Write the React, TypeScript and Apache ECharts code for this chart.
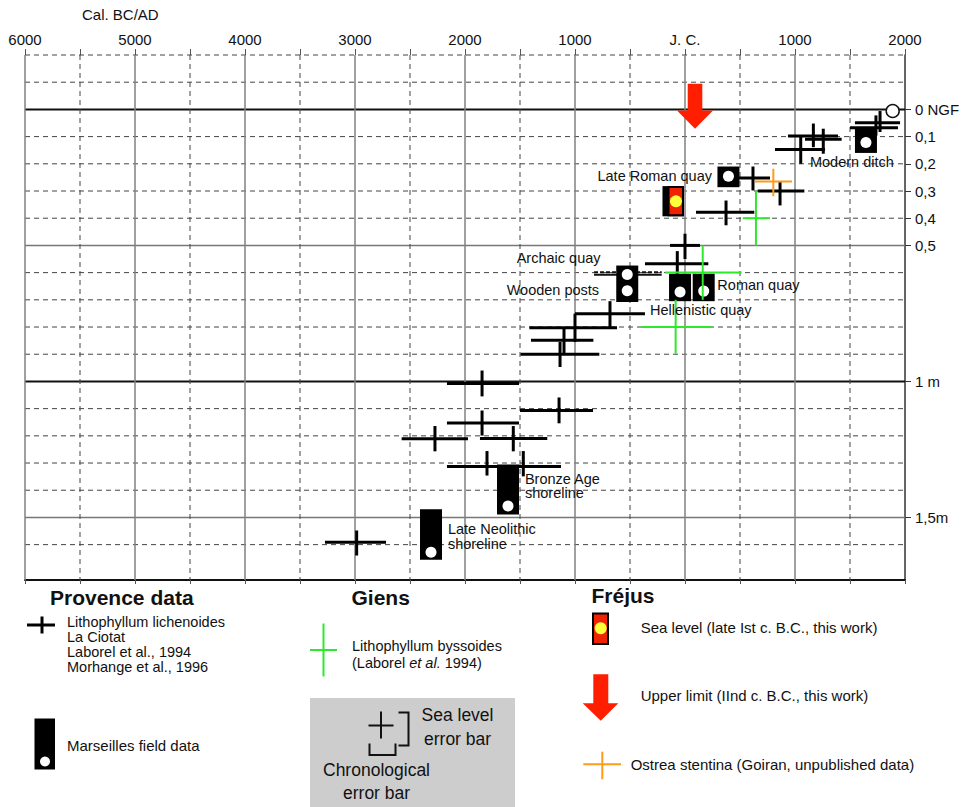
import React, { useEffect, useRef } from "react";
import * as echarts from "echarts";

const FONT = '"Liberation Sans", Arial, Helvetica, sans-serif';

// Axis ticks / labels
const xLabelYears = [-6000, -5000, -4000, -3000, -2000, -1000, 0, 1000, 2000];
const xTickYears = [-6000, -5500, -5000, -4500, -4000, -3500, -3000, -2500, -2000, -1500, -1000, -500, 0, 500, 1000, 1500, 2000];
const yLabelDepths = [0, 0.1, 0.2, 0.3, 0.4, 0.5, 1, 1.5];
const yLabelTexts = ["0 NGF", "0,1", "0,2", "0,3", "0,4", "0,5", "1 m", "1,5m"];
const Y_MIN = -0.2;
const Y_MAX = 1.73;

// Grid lines: [value, kind] kind 0 = dashed, 1 = solid grey, 2 = solid black
const hGridLines = [
  [-0.2, 0], [-0.1, 0], [0, 2], [0.1, 0], [0.2, 0], [0.3, 0], [0.4, 0], [0.5, 1],
  [0.6, 0], [0.7, 0], [0.8, 0], [0.9, 0], [1, 2], [1.1, 0], [1.2, 0], [1.3, 0],
  [1.4, 0], [1.5, 1], [1.6, 0],
];
const vGridLines = [
  [-6000, 1], [-5500, 0], [-5000, 1], [-4500, 0], [-4000, 1], [-3500, 0], [-3000, 1],
  [-2500, 0], [-2000, 1], [-1500, 0], [-1000, 1], [-500, 0], [0, 1], [500, 0],
  [1000, 1], [1500, 0],
];

// Lithophyllum lichenoides (Provence): [year, depth, yearMin, yearMax, depthMin, depthMax]
const provenceCrosses = [
  [1736, 0.049, 1545, 1955, 0.022, 0.096],
  [1773, 0.067, 1500, 1936, 0.006, 0.083],
  [1167, 0.098, 936, 1391, 0.052, 0.139],
  [1257, 0.11, 1091, 1424, 0.071, 0.163],
  [1052, 0.147, 818, 1273, 0.096, 0.2],
  [618, 0.252, 482, 773, 0.21, 0.298],
  [864, 0.3, 661, 1085, 0.267, 0.353],
  [373, 0.378, 100, 630, 0.335, 0.426],
  [0, 0.5, -136, 136, 0.457, 0.55],
  [-70, 0.567, -364, 212, 0.521, 0.61],
  [-682, 0.751, -1000, -364, 0.705, 0.8],
  [-1000, 0.803, -1415, -618, 0.751, 0.855],
  [-1100, 0.849, -1400, -833, 0.806, 0.9],
  [-1136, 0.9, -1494, -779, 0.855, 0.947],
  [-1845, 1.008, -2164, -1509, 0.96, 1.055],
  [-1145, 1.107, -1500, -836, 1.059, 1.154],
  [-1845, 1.153, -2164, -1509, 1.107, 1.199],
  [-2273, 1.211, -2576, -1973, 1.164, 1.257],
  [-1561, 1.21, -1864, -1252, 1.164, 1.257],
  [-1800, 1.3125, -2164, -1445, 1.256, 1.346],
  [-1470, 1.3125, -1818, -1127, 1.256, 1.349],
  [-2985, 1.591, -3273, -2718, 1.548, 1.64],
];

// Lithophyllum byssoides (Giens)
const giensCrosses = [
  [645, 0.4, 525, 773, 0.298, 0.5],
  [161, 0.6, -182, 515, 0.5, 0.7],
  [-85, 0.8, -394, 243, 0.7, 0.898],
];

// Ostrea stentina (Fréjus)
const ostreaCrosses = [[803, 0.265, 636, 973, 0.218, 0.319]];

// Marseilles field data: [year, depthTop, depthBottom]
const marseillesBoxes = [
  [-2309, 1.47, 1.656],
  [-1609, 1.305, 1.489],
  [-525, 0.574, 0.708],
  [-45, 0.604, 0.705],
  [170, 0.604, 0.705],
  [395, 0.21, 0.286],
  [1645, 0.071, 0.16],
];
// Marseilles sample points (white dots): [year, depth]
const marseillesDots = [
  [-2309, 1.628],
  [-1609, 1.458],
  [-525, 0.607],
  [-525, 0.667],
  [-45, 0.671],
  [170, 0.668],
  [395, 0.246],
  [1645, 0.122],
];
// Archaic quay chronological bar: [yearMin, yearMax, depth]
const archaicBar = [[-827, -212, 0.604]];

// Fréjus sea level (late Ist c. B.C.): [year, depthTop, depthBottom, depthPoint]
const frejusLevel = [[-82, 0.282, 0.393, 0.338]];
// Fréjus upper limit arrow: [year, depthTop, depthHeadStart, depthTip]
const frejusUpper = [[91, -0.094, 0.004, 0.071]];
// Present level
const presentLevel = [[1888, 0.006]];

// Annotations: [year, depth, text, align]
const annotations: [number, number, string, string][] = [
  [245, 0.243, "Late Roman quay", "right"],
  [1136, 0.194, "Modern ditch", "left"],
  [-1530, 0.545, "Archaic quay", "left"],
  [-1621, 0.665, "Wooden posts", "left"],
  [294, 0.647, "Roman quay", "left"],
  [-318, 0.739, "Hellenistic quay", "left"],
  [-1455, 1.357, "Bronze Age", "left"],
  [-1455, 1.412, "shoreline", "left"],
  [-2155, 1.541, "Late Neolithic", "left"],
  [-2155, 1.596, "shoreline", "left"],
];

function crossSeries(name: string, data: number[][], color: string, width: number, z: number) {
  return {
    type: "custom",
    name,
    z,
    data,
    renderItem: (params: any, api: any) => {
      const c = api.coord([api.value(0), api.value(1)]);
      const l = api.coord([api.value(2), api.value(1)]);
      const r = api.coord([api.value(3), api.value(1)]);
      const t = api.coord([api.value(0), api.value(4)]);
      const b = api.coord([api.value(0), api.value(5)]);
      return {
        type: "group",
        children: [
          { type: "line", shape: { x1: l[0], y1: c[1], x2: r[0], y2: c[1] }, style: { stroke: color, lineWidth: width } },
          { type: "line", shape: { x1: c[0], y1: t[1], x2: c[0], y2: b[1] }, style: { stroke: color, lineWidth: width } },
        ],
      };
    },
  };
}

export default function App() {
  const ref = useRef<HTMLDivElement>(null);
  useEffect(() => {
    if (!ref.current) return;
    const chart = echarts.init(ref.current, undefined, { renderer: "svg" });
    const txt = (x: number, y: number, text: string, size = 15, extra: any = {}) => ({
      type: "text",
      x,
      y,
      style: { text, font: `${extra.bold ? "bold " : ""}${size}px ${FONT}`, fill: "#111", align: extra.align || "left", verticalAlign: "middle", ...(extra.style || {}) },
    });
    const ln = (x1: number, y1: number, x2: number, y2: number, color: string, w: number) => ({
      type: "line",
      shape: { x1, y1, x2, y2 },
      style: { stroke: color, lineWidth: w },
    });
    const option: any = {
      animation: false,
      textStyle: { fontFamily: FONT },
      grid: { left: 25, right: 58, top: 55, bottom: 227, containLabel: false },
      xAxis: [
        {
          type: "value",
          position: "top",
          min: -6000,
          max: 2000,
          axisLine: { show: false, onZero: false },
          axisTick: { show: true, customValues: xTickYears, length: 6, lineStyle: { color: "#555" } },
          axisLabel: {
            customValues: xLabelYears,
            margin: 8,
            fontSize: 15,
            color: "#111",
            fontFamily: FONT,
            formatter: (v: number) => (Math.abs(v) < 1 ? "J. C." : String(Math.abs(Math.round(v)))),
          },
          splitLine: { show: false },
        },
        {
          type: "value",
          position: "bottom",
          min: -6000,
          max: 2000,
          axisLine: { show: true, onZero: false, lineStyle: { color: "#111", width: 2 } },
          axisTick: { show: true, customValues: xTickYears, length: 4, lineStyle: { color: "#555" } },
          axisLabel: { show: false },
          splitLine: { show: false },
        },
      ],
      yAxis: {
        type: "value",
        inverse: true,
        position: "right",
        min: Y_MIN,
        max: Y_MAX,
        axisLine: { show: true, onZero: false, lineStyle: { color: "#333", width: 1.5 } },
        axisTick: { show: true, customValues: yLabelDepths, length: 6, lineStyle: { color: "#333" } },
        axisLabel: {
          customValues: yLabelDepths,
          margin: 10,
          fontSize: 15,
          color: "#111",
          fontFamily: FONT,
          formatter: (v: number) => {
            let best = 0;
            yLabelDepths.forEach((d, i) => {
              if (Math.abs(d - v) < Math.abs(yLabelDepths[best] - v)) best = i;
            });
            return yLabelTexts[best];
          },
        },
        splitLine: { show: false },
      },
      series: [
        {
          type: "custom",
          name: "hgrid",
          z: 1,
          silent: true,
          data: hGridLines,
          renderItem: (params: any, api: any) => {
            const a = api.coord([-6000, api.value(0)]);
            const b = api.coord([2000, api.value(0)]);
            const k = api.value(1);
            return {
              type: "line",
              shape: { x1: a[0], y1: a[1], x2: b[0], y2: b[1] },
              style:
                k === 0
                  ? { stroke: "#444", lineWidth: 1, lineDash: [5, 4] }
                  : k === 1
                  ? { stroke: "#777", lineWidth: 1.5 }
                  : { stroke: "#111", lineWidth: 2 },
            };
          },
        },
        {
          type: "custom",
          name: "vgrid",
          z: 1,
          silent: true,
          data: vGridLines,
          renderItem: (params: any, api: any) => {
            const a = api.coord([api.value(0), Y_MIN]);
            const b = api.coord([api.value(0), Y_MAX]);
            const k = api.value(1);
            return {
              type: "line",
              shape: { x1: a[0], y1: a[1], x2: b[0], y2: b[1] },
              style: k === 0 ? { stroke: "#444", lineWidth: 1, lineDash: [5, 4] } : { stroke: "#808080", lineWidth: 1.5 },
            };
          },
        },
        {
          type: "custom",
          name: "archaicBar",
          z: 2,
          data: archaicBar,
          renderItem: (params: any, api: any) => {
            const a = api.coord([api.value(0), api.value(2)]);
            const b = api.coord([api.value(1), api.value(2)]);
            return {
              type: "group",
              children: [
                { type: "line", shape: { x1: a[0], y1: a[1] + 1, x2: b[0], y2: b[1] + 1 }, style: { stroke: "#111", lineWidth: 2 } },
                { type: "line", shape: { x1: a[0], y1: a[1] - 1.5, x2: b[0], y2: b[1] - 1.5 }, style: { stroke: "#111", lineWidth: 2, lineDash: [4, 2] } },
              ],
            };
          },
        },
        {
          type: "custom",
          name: "Marseilles field data",
          z: 3,
          data: marseillesBoxes,
          renderItem: (params: any, api: any) => {
            const t = api.coord([api.value(0), api.value(1)]);
            const b = api.coord([api.value(0), api.value(2)]);
            return { type: "rect", shape: { x: t[0] - 11, y: t[1], width: 22, height: b[1] - t[1] }, style: { fill: "#000" } };
          },
        },
        crossSeries("Lithophyllum lichenoides", provenceCrosses, "#000", 3, 4),
        {
          type: "scatter",
          name: "Marseilles dots",
          z: 5,
          data: marseillesDots,
          symbol: "circle",
          symbolSize: 11,
          itemStyle: { color: "#fff", opacity: 1 },
        },
        crossSeries("Lithophyllum byssoides", giensCrosses, "#2ee82e", 2, 6),
        crossSeries("Ostrea stentina", ostreaCrosses, "#ff9a1a", 2, 6),
        {
          type: "custom",
          name: "Fréjus sea level",
          z: 7,
          data: frejusLevel,
          renderItem: (params: any, api: any) => {
            const t = api.coord([api.value(0), api.value(1)]);
            const b = api.coord([api.value(0), api.value(2)]);
            const p = api.coord([api.value(0), api.value(3)]);
            return {
              type: "group",
              children: [
                { type: "rect", shape: { x: t[0] - 13.5, y: t[1], width: 21.5, height: b[1] - t[1] }, style: { fill: "#000" } },
                { type: "rect", shape: { x: t[0] - 7.5, y: t[1] + 1, width: 14.5, height: b[1] - t[1] - 2 }, style: { fill: "#f02200", stroke: "#000", lineWidth: 2 } },
                { type: "circle", shape: { cx: p[0], cy: p[1], r: 6 }, style: { fill: "#ffff3a" } },
              ],
            };
          },
        },
        {
          type: "custom",
          name: "Fréjus upper limit",
          z: 7,
          data: frejusUpper,
          renderItem: (params: any, api: any) => {
            const t = api.coord([api.value(0), api.value(1)]);
            const h = api.coord([api.value(0), api.value(2)]);
            const p = api.coord([api.value(0), api.value(3)]);
            const x = t[0];
            return {
              type: "polygon",
              shape: {
                points: [
                  [x - 7.3, t[1]], [x + 7.3, t[1]], [x + 7.3, h[1]], [x + 18, h[1]],
                  [x, p[1]], [x - 18, h[1]], [x - 7.3, h[1]],
                ],
              },
              style: { fill: "#ff1e00" },
            };
          },
        },
        {
          type: "scatter",
          name: "Present level",
          z: 7,
          data: presentLevel,
          symbol: "circle",
          symbolSize: 13,
          itemStyle: { color: "#fff", borderColor: "#111", borderWidth: 1.5, opacity: 1 },
        },
        {
          type: "custom",
          name: "labels",
          z: 8,
          silent: true,
          data: annotations.map((a) => [a[0], a[1]]),
          renderItem: (params: any, api: any) => {
            const p = api.coord([api.value(0), api.value(1)]);
            const a = annotations[params.dataIndex];
            return {
              type: "text",
              x: p[0],
              y: p[1],
              style: { text: a[2], font: `14.5px ${FONT}`, fill: "#111", align: a[3], verticalAlign: "middle" },
            };
          },
        },
      ],
      graphic: [
        txt(82, 14, "Cal. BC/AD", 15),
        // Provence
        txt(50, 597, "Provence data", 21, { bold: true }),
        ln(27, 625, 55, 625, "#000", 3),
        ln(42, 616.5, 42, 633.5, "#000", 3),
        txt(67, 621.5, "Lithophyllum lichenoides", 14.5),
        txt(67, 637, "La Ciotat", 14.5),
        txt(67, 652, "Laborel et al., 1994", 14.5),
        txt(67, 667, "Morhange et al., 1996", 14.5),
        { type: "rect", shape: { x: 34.5, y: 718.5, width: 20.5, height: 51 }, style: { fill: "#000" } },
        { type: "circle", shape: { cx: 45, cy: 761.5, r: 5 }, style: { fill: "#fff" } },
        txt(67, 745, "Marseilles field data"),
        // Giens
        txt(351.5, 597, "Giens", 21, { bold: true }),
        ln(310, 650, 337, 650, "#2ee82e", 2),
        ln(323.5, 623.5, 323.5, 676.5, "#2ee82e", 2),
        txt(352, 646, "Lithophyllum byssoides", 14.5),
        {
          type: "text",
          x: 352,
          y: 663,
          style: {
            text: "(Laborel {i|et al.} 1994)",
            font: `14.5px ${FONT}`,
            fill: "#111",
            align: "left",
            verticalAlign: "middle",
            rich: { i: { font: `italic 14.5px ${FONT}`, fill: "#111" } },
          },
        },
        // error bar box
        { type: "rect", shape: { x: 310, y: 698, width: 205, height: 115 }, style: { fill: "#cdcdcd" } },
        ln(368.5, 725.5, 393.5, 725.5, "#111", 2),
        ln(381, 711.5, 381, 738.5, "#111", 2),
        { type: "polyline", shape: { points: [[398.5, 712.5], [408.5, 712.5], [408.5, 745.5], [398.5, 745.5]] }, style: { stroke: "#111", lineWidth: 2, fill: null } },
        { type: "polyline", shape: { points: [[369.5, 743.5], [369.5, 755], [395.5, 755], [395.5, 743.5]] }, style: { stroke: "#111", lineWidth: 2, fill: null } },
        txt(421.5, 715, "Sea level", 17.5),
        txt(424, 738.5, "error bar", 17.5),
        txt(323, 770, "Chronological", 17.5),
        txt(343, 793, "error bar", 17.5),
        // Fréjus
        txt(591.5, 595, "Fréjus", 21, { bold: true }),
        { type: "rect", shape: { x: 593, y: 613.5, width: 15, height: 30.5 }, style: { fill: "#f02200", stroke: "#000", lineWidth: 2 } },
        { type: "circle", shape: { cx: 600.7, cy: 628.3, r: 6 }, style: { fill: "#ffff3a" } },
        txt(640.7, 627.3, "Sea level (late Ist c. B.C., this work)"),
        {
          type: "polygon",
          shape: { points: [[593.3, 674.3], [608.3, 674.3], [608.3, 703.3], [618.3, 703.3], [600.8, 720.7], [582.7, 703.3], [593.3, 703.3]] },
          style: { fill: "#ff1e00" },
        },
        txt(640.7, 695, "Upper limit (IInd c. B.C., this work)"),
        ln(583.3, 764.3, 621, 764.3, "#ff9a1a", 2),
        ln(602.3, 751.7, 602.3, 779.3, "#ff9a1a", 2),
        txt(630.7, 764, "Ostrea stentina (Goiran, unpublished data)"),
      ],
    };
    chart.setOption(option);
    return () => chart.dispose();
  }, []);
  return <div ref={ref} style={{ position: "fixed", left: 0, top: 0, width: 963, height: 807, background: "#fff" }} />;
}
